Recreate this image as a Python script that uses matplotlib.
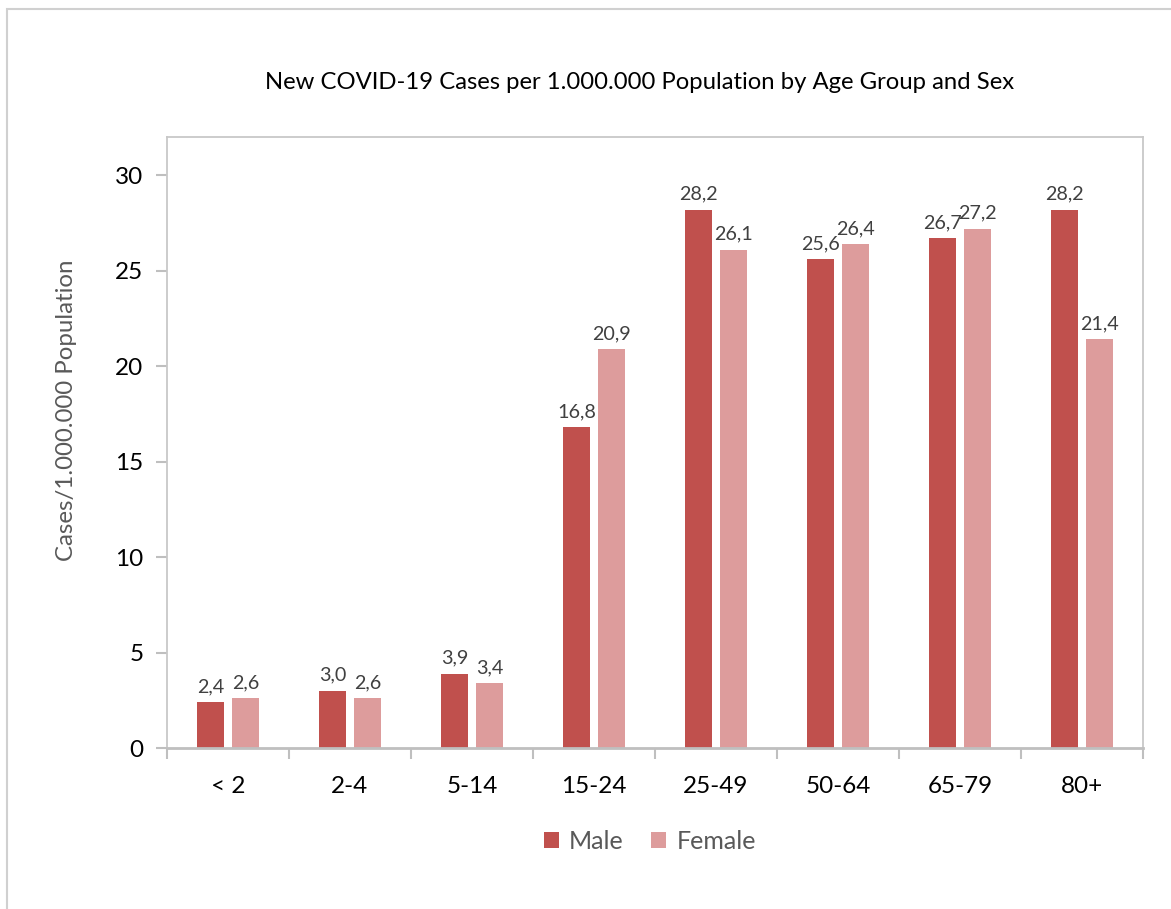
import matplotlib
matplotlib.use("Agg")
import matplotlib.pyplot as plt
from matplotlib.patches import Rectangle
import numpy as np

# data
age_groups = ["< 2", "2-4", "5-14", "15-24", "25-49", "50-64", "65-79", "80+"]
male = [2.4, 3.0, 3.9, 16.8, 28.2, 25.6, 26.7, 28.2]
female = [2.6, 2.6, 3.4, 20.9, 26.1, 26.4, 27.2, 21.4]

male_color = "#C0504D"
female_color = "#DD9C9C"
plt.rcParams["font.family"] = ["Lato", "DejaVu Sans"]

fig = plt.figure(figsize=(11.71, 9.09), dpi=100)
ax = fig.add_axes([0.1426, 0.1771, 0.8335, 0.6722])

x = np.arange(len(age_groups))
w = 0.22
off = 0.143
b1 = ax.bar(x - off, male, w, color=male_color, label="Male")
b2 = ax.bar(x + off, female, w, color=female_color, label="Female")

for bars, vals in [(b1, male), (b2, female)]:
    for r, v in zip(bars, vals):
        ax.annotate(f"{v:.1f}".replace(".", ","),
                    (r.get_x() + r.get_width() / 2, r.get_height()),
                    xytext=(0, 5), textcoords="offset points",
                    ha="center", va="bottom", fontsize=14.2, color="#404040")

ax.set_xlim(-0.5, len(age_groups) - 0.5)
ax.set_ylim(0, 32)
ax.set_yticks([0, 5, 10, 15, 20, 25, 30])
ax.set_xticks(x)
ax.set_xticklabels(age_groups)
ax.set_xticks(np.arange(-0.5, len(age_groups)), minor=True)
ax.tick_params(axis="x", which="major", length=0, labelsize=17.5, pad=20)
ax.tick_params(axis="x", which="minor", length=8, width=1.5, color="#BFBFBF")
ax.tick_params(axis="y", length=8, width=1.5, color="#BFBFBF", labelsize=17.5, pad=9)

for s in ax.spines.values():
    s.set_color("#C8C8C8")
    s.set_linewidth(1.3)
ax.spines["bottom"].set_linewidth(2)
ax.spines["bottom"].set_color("#BFBFBF")

fig.text(0.0565, 0.549, "Cases/1.000.000 Population", rotation=90,
         ha="center", va="center", fontsize=17.3, color="#595959")
fig.text(0.5465, 0.909, "New COVID-19 Cases per 1.000.000 Population by Age Group and Sex",
         ha="center", va="center", fontsize=17.2, color="black")

leg = fig.legend(handles=[b1, b2], loc="center", bbox_to_anchor=(0.555, 0.074),
                 ncol=2, frameon=False, fontsize=18, handlelength=0.6,
                 handleheight=0.6, handletextpad=0.4, columnspacing=1.1)
for t in leg.get_texts():
    t.set_color("#595959")

# outer chart border
fig.patches.append(Rectangle((0.006, -0.01), 1.1, 1.0, transform=fig.transFigure,
                             fill=False, edgecolor="#D0D0D0", linewidth=1.5))

fig.savefig("out.png", dpi=100)
